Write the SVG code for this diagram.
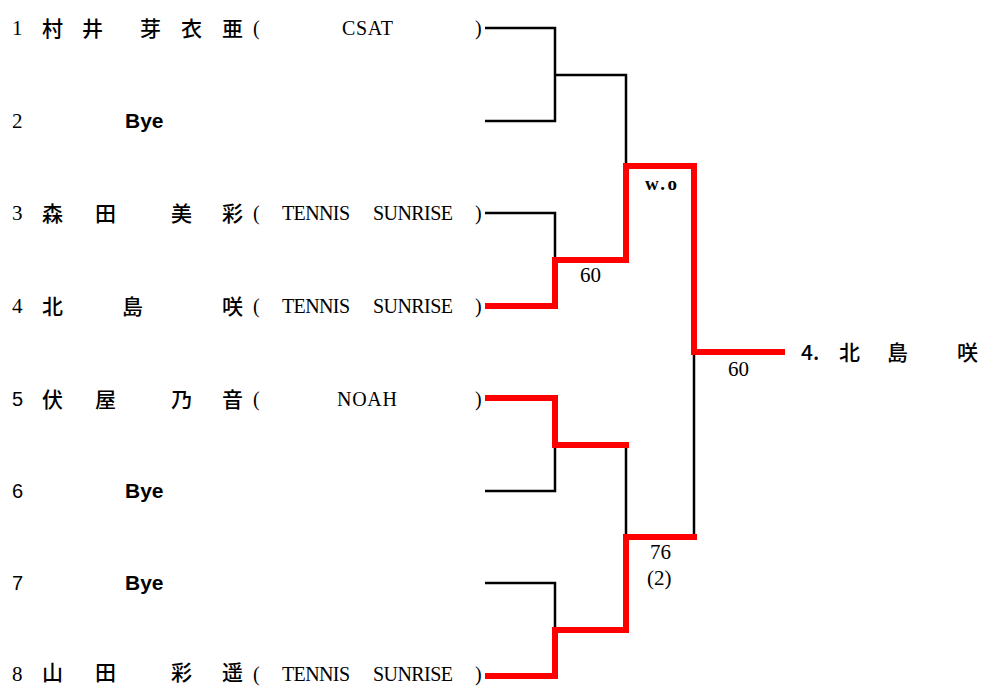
<svg xmlns="http://www.w3.org/2000/svg" width="984" height="686" viewBox="0 0 984 686">
<style>
.num{font-family:"Liberation Serif",serif;font-size:21px;fill:#000}
.nums{font-family:"Liberation Sans",sans-serif;font-size:20px;fill:#000}
.jp{font-family:"Noto Sans CJK JP",sans-serif;font-size:21px;font-weight:500;fill:#000}
.team{font-family:"Liberation Serif",serif;font-size:20px;fill:#000}
.bye{font-family:"Liberation Sans",sans-serif;font-size:21px;font-weight:bold;fill:#000}
.score{font-family:"Liberation Serif",serif;font-size:21px;fill:#000}
.wo{font-family:"Liberation Serif",serif;font-size:19px;font-weight:bold;fill:#000}
.blk{fill:none;stroke:#000;stroke-width:2.5}
.red{fill:none;stroke:#ff0000;stroke-width:6;stroke-linejoin:miter;stroke-linecap:square}
</style>
<rect width="984" height="686" fill="#fff"/>
<g id="connectors">
<path class="blk" d="M485,28 H555 V121 H485 M555,75 H626 V166"/>
<path class="blk" d="M485,213 H555 V260"/>
<path class="blk" d="M485,491 H555 V445 M626,445 V537"/>
<path class="blk" d="M485,583 H555 V630"/>
<path class="blk" d="M694,352 V537"/>
<path class="red" d="M488,306 H555 V260 H626 V166 H694 V352 H782"/>
<path class="red" d="M488,398 H555 V445 H626"/>
<path class="red" d="M488,676 H555 V630 H626 V537 H694"/>
</g>
<g id="p1">
<text class="num" x="12" y="35">1</text>
<text class="jp" x="42" y="36">村</text><text class="jp" x="82" y="36">井</text><text class="jp" x="140" y="36">芽</text><text class="jp" x="181" y="36">衣</text><text class="jp" x="222" y="36">亜</text>
<text class="team" x="253" y="35">(</text><text class="team" x="342" y="35" textLength="51">CSAT</text><text class="team" x="475" y="35">)</text>
</g>
<g id="p2">
<text class="num" x="12" y="128">2</text>
<text class="bye" x="125" y="128">Bye</text>
</g>
<g id="p3">
<text class="num" x="12" y="220">3</text>
<text class="jp" x="42" y="221">森</text><text class="jp" x="95" y="221">田</text><text class="jp" x="171" y="221">美</text><text class="jp" x="222" y="221">彩</text>
<text class="team" x="253" y="220">(</text><text class="team" x="282" y="220" textLength="68">TENNIS</text><text class="team" x="373" y="220" textLength="80">SUNRISE</text><text class="team" x="475" y="220">)</text>
</g>
<g id="p4">
<text class="num" x="12" y="313">4</text>
<text class="jp" x="42" y="314">北</text><text class="jp" x="122" y="314">島</text><text class="jp" x="222" y="314">咲</text>
<text class="team" x="253" y="313">(</text><text class="team" x="282" y="313" textLength="68">TENNIS</text><text class="team" x="373" y="313" textLength="80">SUNRISE</text><text class="team" x="475" y="313">)</text>
</g>
<g id="p5">
<text class="nums" x="12" y="406">5</text>
<text class="jp" x="42" y="407">伏</text><text class="jp" x="95" y="407">屋</text><text class="jp" x="171" y="407">乃</text><text class="jp" x="222" y="407">音</text>
<text class="team" x="253" y="406">(</text><text class="team" x="337" y="406" textLength="60">NOAH</text><text class="team" x="475" y="406">)</text>
</g>
<g id="p6">
<text class="nums" x="12" y="498">6</text>
<text class="bye" x="125" y="498">Bye</text>
</g>
<g id="p7">
<text class="nums" x="12" y="590">7</text>
<text class="bye" x="125" y="590">Bye</text>
</g>
<g id="p8">
<text class="num" x="12" y="681">8</text>
<text class="jp" x="42" y="680">山</text><text class="jp" x="95" y="680">田</text><text class="jp" x="171" y="680">彩</text><text class="jp" x="222" y="680">遥</text>
<text class="team" x="253" y="681">(</text><text class="team" x="282" y="681" textLength="68">TENNIS</text><text class="team" x="373" y="681" textLength="80">SUNRISE</text><text class="team" x="475" y="681">)</text>
</g>
<g id="scores">
<text class="wo" x="645" y="190" textLength="32">w.o</text>
<text class="score" x="580" y="282">60</text>
<text class="score" x="728" y="376">60</text>
<text class="score" x="650" y="559">76</text>
<text class="score" x="647" y="585">(2)</text>
</g>
<g id="winner">
<text class="jp" x="801" y="360" font-weight="bold">4.</text><text class="jp" x="839" y="360">北</text><text class="jp" x="887" y="360">島</text><text class="jp" x="957" y="360">咲</text>
</g>
</svg>
